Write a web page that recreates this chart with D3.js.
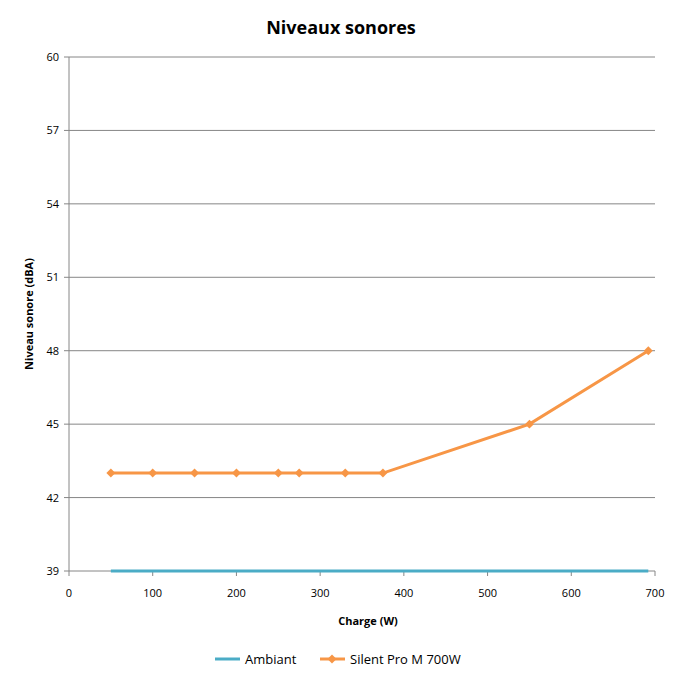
<!DOCTYPE html>
<html><head><meta charset="utf-8">
<script src="https://cdn.jsdelivr.net/npm/d3@7/dist/d3.min.js"></script>
<style>body{margin:0;background:#fff}text{font-family:"Open Sans","DejaVu Sans",sans-serif}</style>
</head><body><svg id="c" width="682" height="682"></svg>
<script>
const ambiantX=[50,692];
const ambiantY=[39,39];
const silentX=[50,100,150,200,250,275,330,375,550,692];
const silentY=[43,43,43,43,43,43,43,43,45,48];
const yTicks=[39,42,45,48,51,54,57,60];
const xTicks=[0,100,200,300,400,500,600,700];

const svg=d3.select("#c");
const x=d3.scaleLinear().domain([0,700]).range([69,655]);
const y=d3.scaleLinear().domain([39,60]).range([571,57]);

svg.append("g").selectAll("line").data(yTicks).join("line")
 .attr("x1",69).attr("x2",655).attr("y1",d=>y(d)).attr("y2",d=>y(d)).attr("stroke","#868686");
svg.append("line").attr("x1",69).attr("x2",69).attr("y1",57).attr("y2",571).attr("stroke","#868686");
svg.append("g").selectAll("line").data(yTicks).join("line")
 .attr("x1",64).attr("x2",69).attr("y1",d=>y(d)).attr("y2",d=>y(d)).attr("stroke","#868686");
svg.append("g").selectAll("line").data(xTicks).join("line")
 .attr("x1",d=>x(d)).attr("x2",d=>x(d)).attr("y1",571).attr("y2",576).attr("stroke","#868686");
svg.append("g").selectAll("text").data(yTicks).join("text")
 .attr("x",59).attr("y",d=>y(d)+4).attr("text-anchor","end").attr("font-size",11).text(d=>d);
svg.append("g").selectAll("text").data(xTicks).join("text")
 .attr("x",d=>x(d)).attr("y",597).attr("text-anchor","middle").attr("font-size",11).text(d=>d);

const line=d3.line().x(d=>x(d[0])).y(d=>y(d[1]));
svg.append("path").attr("d",line(ambiantX.map((v,i)=>[v,ambiantY[i]]))).attr("fill","none").attr("stroke","#4BACC6").attr("stroke-width",3);
const sd=silentX.map((v,i)=>[v,silentY[i]]);
svg.append("path").attr("d",line(sd)).attr("fill","none").attr("stroke","#F79646").attr("stroke-width",3);
const dia=d3.symbol(d3.symbolSquare,40);
svg.append("g").selectAll("path").data(sd).join("path")
 .attr("transform",d=>`translate(${x(d[0])},${y(d[1])}) rotate(45)`).attr("d",dia).attr("fill","#F79646");

svg.append("text").attr("x",341).attr("y",34).attr("text-anchor","middle").attr("font-size",18).attr("font-weight","bold").text("Niveaux sonores");
svg.append("text").attr("x",368).attr("y",625).attr("text-anchor","middle").attr("font-size",11).attr("font-weight","bold").text("Charge (W)");
svg.append("text").attr("transform","translate(33,314) rotate(-90)").attr("text-anchor","middle").attr("font-size",11).attr("font-weight","bold").text("Niveau sonore (dBA)");

svg.append("line").attr("x1",215).attr("x2",240).attr("y1",659).attr("y2",659).attr("stroke","#4BACC6").attr("stroke-width",3);
svg.append("text").attr("x",245).attr("y",664).attr("font-size",13).text("Ambiant");
svg.append("line").attr("x1",320).attr("x2",345).attr("y1",659).attr("y2",659).attr("stroke","#F79646").attr("stroke-width",3);
svg.append("path").attr("transform","translate(332,659) rotate(45)").attr("d",dia).attr("fill","#F79646");
svg.append("text").attr("x",350).attr("y",664).attr("font-size",13).text("Silent Pro M 700W");
</script></body></html>
